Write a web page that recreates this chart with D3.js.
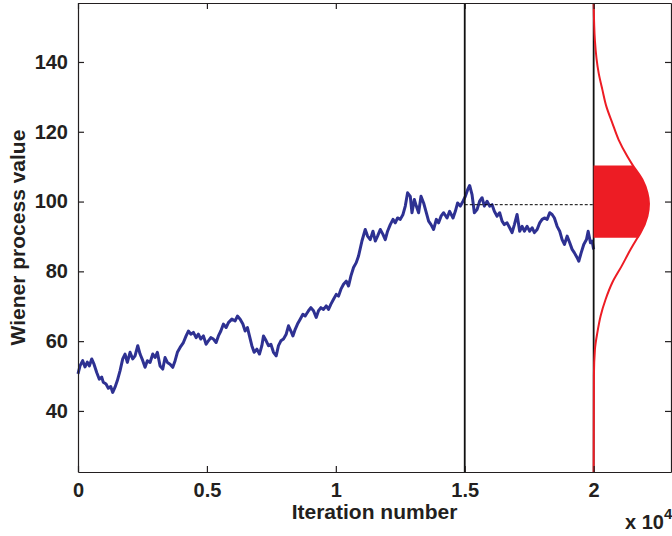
<!DOCTYPE html>
<html>
<head>
<meta charset="utf-8">
<script src="https://cdn.jsdelivr.net/npm/d3@7"></script>
<style>
  body { margin: 0; background: #fff; }
  svg text { font-family: "Liberation Sans", Arial, sans-serif; font-weight: bold; fill: #231f20; }
</style>
</head>
<body>
<script>
// Wiener process path: [iteration, value]
const wienerPath = [
  [0, 50.6], [78, 52.9], [182, 54.4], [272, 52.6], [361, 54], [439, 52.9], [532, 54.9], [621, 53.4],
  [726, 51], [827, 49.1], [920, 49.7], [982, 48.2], [1087, 47.7], [1176, 46.5], [1269, 47], [1347, 45.3],
  [1436, 46.8], [1526, 48.7], [1630, 51.5], [1735, 54.9], [1825, 56.3], [1914, 53.9], [2019, 56.8],
  [2123, 54.9], [2213, 55.8], [2318, 58.7], [2407, 56.3], [2512, 54.4], [2601, 52.5], [2690, 54.4],
  [2795, 53.9], [2900, 56.3], [2989, 55.3], [3078, 56.8], [3183, 52.9], [3288, 52], [3377, 55.3],
  [3467, 53.9], [3571, 53.4], [3676, 52.5], [3766, 54.4], [3855, 56.8], [3960, 58.2], [4088, 59.6],
  [4193, 61.5], [4282, 62.9], [4375, 62], [4476, 62.5], [4581, 61], [4670, 62], [4763, 60.6],
  [4864, 61.5], [4969, 59.1], [5058, 60.1], [5151, 61], [5252, 60.6], [5357, 59.6], [5446, 61.5],
  [5540, 62.9], [5641, 64.9], [5745, 63.9], [5835, 65.3], [5967, 66.3], [6095, 65.8], [6184, 67.2],
  [6289, 66.3], [6394, 64.9], [6483, 62.9], [6572, 63.9], [6650, 61.5], [6743, 58.7], [6832, 56.8],
  [6937, 57.7], [7038, 56.3], [7131, 58.7], [7194, 61.5], [7298, 60.1], [7388, 58.7], [7481, 59.1],
  [7582, 56.8], [7686, 55.8], [7776, 58.7], [7869, 60.1], [7970, 60.6], [8075, 62], [8164, 64.4],
  [8257, 62.9], [8335, 61.5], [8424, 63.4], [8513, 64.9], [8618, 66.3], [8723, 67.7], [8812, 67.2],
  [8940, 68.7], [9033, 69.6], [9134, 68.7], [9239, 66.8], [9328, 68.7], [9422, 69.6], [9523, 69.1],
  [9627, 70.1], [9717, 69.1], [9810, 70.6], [9911, 72], [10016, 73.4], [10105, 72.9], [10198, 74.9],
  [10299, 76.3], [10404, 77.2], [10493, 75.8], [10586, 78.7], [10687, 81.1], [10792, 82.5],
  [10881, 84.4], [11013, 88.7], [11141, 92], [11231, 90.1], [11335, 89.1], [11440, 91.5],
  [11530, 88.7], [11619, 90.1], [11724, 92], [11828, 90.6], [11918, 89.1], [12007, 91.5],
  [12112, 93.4], [12217, 94.9], [12306, 93.9], [12395, 95.3], [12500, 94.9], [12605, 96.3],
  [12694, 98.7], [12784, 102.5], [12888, 101.5], [12954, 96.8], [13044, 100.6], [13121, 98.7],
  [13211, 96.8], [13304, 101.5], [13405, 99.6], [13509, 96.8], [13599, 94.4], [13692, 93.4],
  [13793, 92], [13898, 94.9], [13987, 93.9], [14081, 95.8], [14181, 96.8], [14313, 95.3],
  [14414, 97.2], [14546, 95.3], [14635, 97.2], [14724, 99.6], [14829, 98.7], [14934, 100.1],
  [15023, 101.5], [15113, 103.4], [15190, 104.6], [15283, 102], [15373, 96.8], [15477, 97.7],
  [15578, 100.1], [15672, 101.1], [15761, 98.7], [15866, 100.1], [15967, 98.7], [16060, 99.1],
  [16149, 97.2], [16254, 95.8], [16355, 96.8], [16448, 94.4], [16537, 93.4], [16642, 93.9],
  [16743, 92.5], [16836, 91.1], [16926, 93.4], [17030, 96.3], [17131, 91.5], [17225, 92.9],
  [17314, 91.5], [17419, 92.9], [17520, 91.5], [17613, 92.5], [17702, 91.1], [17807, 92],
  [17908, 93.9], [18001, 94.9], [18090, 95.3], [18195, 94.9], [18296, 96.8], [18389, 96.3],
  [18478, 95.3], [18583, 92.9], [18684, 91.5], [18777, 89.1], [18867, 87.7], [18971, 90.1],
  [19072, 88.2], [19165, 86.3], [19255, 85.3], [19360, 83.9], [19422, 82.9], [19515, 85.3],
  [19616, 87.7], [19721, 89.1], [19787, 91.5], [19876, 88.2], [19942, 88.7], [20000, 86.3]
];

// red density on the right: [value, horizontal extent in iterations from the 2e4 line]
const densityCurve = [
  [156.9, 0], [146, 50], [136.8, 195], [132, 340], [127.2, 495], [122.5, 725], [117.7, 970],
  [112.9, 1310], [110.3, 1525], [106.3, 1890], [102.5, 2085], [99.4, 2145], [95.8, 2085],
  [91.1, 1825], [89.6, 1700], [86.3, 1435], [81.5, 1085], [76.8, 725], [72, 465], [67.2, 270],
  [62.5, 145], [57.7, 50], [50, 10], [22.5, 0]
];
const densityBand = [89.6, 110.3];

const splitIter = 15000;
const endIter = 20000;
const lastLevel = 99.1;

const xTicks = [0, 5000, 10000, 15000, 20000];
const yTicks = [40, 60, 80, 100, 120, 140];
const xDomain = [0, 23000];
const yDomain = [22.5, 156.9];

const width = 672, height = 536;
const margin = { top: 3, right: 1, bottom: 64, left: 78 };

const svg = d3.select(document.body).append('svg')
  .attr('width', width)
  .attr('height', height);

const x = d3.scaleLinear().domain(xDomain).range([margin.left, width - margin.right]);
const y = d3.scaleLinear().domain(yDomain).range([height - margin.bottom, margin.top]);

// the walk
svg.append('path')
  .datum(wienerPath)
  .attr('fill', 'none')
  .attr('stroke', '#2e3192')
  .attr('stroke-width', 3)
  .attr('stroke-linejoin', 'round')
  .attr('d', d3.line().x(d => x(d[0])).y(d => y(d[1])));

// dashed level from 1.5e4 to 2e4
svg.append('line')
  .attr('x1', x(splitIter)).attr('x2', x(endIter))
  .attr('y1', y(lastLevel)).attr('y2', y(lastLevel))
  .attr('stroke', '#000')
  .attr('stroke-width', 1)
  .attr('stroke-dasharray', '3,2');

// vertical markers
svg.selectAll('line.marker')
  .data([splitIter, endIter])
  .join('line')
    .attr('class', 'marker')
    .attr('x1', d => x(d)).attr('x2', d => x(d))
    .attr('y1', y(yDomain[0])).attr('y2', y(yDomain[1]))
    .attr('stroke', '#111')
    .attr('stroke-width', 1.8);

// filled band of the density
let bandPts = densityCurve.filter(d => d[0] >= densityBand[0] && d[0] <= densityBand[1]);
svg.append('path')
  .datum(bandPts)
  .attr('fill', '#ed1c24')
  .attr('d', d3.area()
    .curve(d3.curveMonotoneY)
    .y(d => y(d[0]))
    .x0(x(endIter))
    .x1(d => x(endIter + d[1])));

// density outline
svg.append('path')
  .datum(densityCurve)
  .attr('fill', 'none')
  .attr('stroke', '#ed1c24')
  .attr('stroke-width', 2)
  .attr('d', d3.line()
    .curve(d3.curveMonotoneY)
    .x(d => x(endIter + d[1]))
    .y(d => y(d[0])));

// axes
const fmtX = d => d3.format('~g')(d / 1e4);

svg.append('g')
  .attr('transform', `translate(0,${height - margin.bottom})`)
  .call(d3.axisBottom(x).tickValues(xTicks).tickFormat(fmtX).tickSize(-6).tickSizeOuter(0).tickPadding(11));

svg.append('g')
  .attr('transform', `translate(0,${margin.top})`)
  .call(d3.axisTop(x).tickValues(xTicks).tickFormat('').tickSize(-6).tickSizeOuter(0));

svg.append('g')
  .attr('transform', `translate(${margin.left},0)`)
  .call(d3.axisLeft(y).tickValues(yTicks).tickSize(-6).tickSizeOuter(0).tickPadding(10));

svg.append('g')
  .attr('transform', `translate(${width - margin.right},0)`)
  .call(d3.axisRight(y).tickValues(yTicks).tickFormat('').tickSize(-6).tickSizeOuter(0));

svg.selectAll('.tick line, .domain').attr('stroke', '#231f20').attr('stroke-width', 1.2);
svg.selectAll('.tick text').style('font-size', '20px').attr('fill', '#231f20');

// labels
svg.append('text')
  .attr('x', (margin.left + width - margin.right) / 2)
  .attr('y', 519)
  .attr('text-anchor', 'middle')
  .style('font-size', '21px')
  .text('Iteration number');

svg.append('text')
  .attr('transform', `translate(25,${(y(yDomain[0]) + y(yDomain[1])) / 2}) rotate(-90)`)
  .attr('text-anchor', 'middle')
  .style('font-size', '21px')
  .text('Wiener process value');

const mult = svg.append('text')
  .attr('x', 625)
  .attr('y', 529)
  .style('font-size', '20px');
mult.append('tspan').text('x 10');
mult.append('tspan').attr('dy', -10).style('font-size', '15px').text('4');
</script>
</body>
</html>
